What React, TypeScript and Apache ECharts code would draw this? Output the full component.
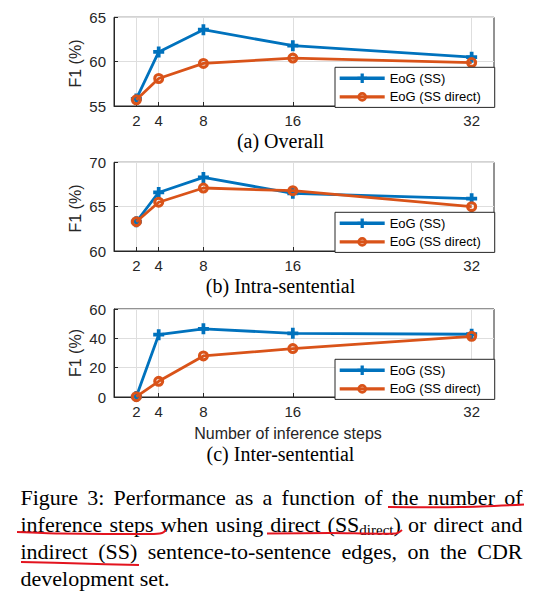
import React, { useEffect, useRef } from "react";
import * as echarts from "echarts";

// ---- data ----
const steps = [2, 4, 8, 16, 32];
const overallSS = [55.8, 61.1, 63.6, 61.8, 60.5];
const overallDirect = [55.7, 58.1, 59.8, 60.4, 59.9];
const intraSS = [63.3, 66.6, 68.3, 66.5, 65.9];
const intraDirect = [63.3, 65.5, 67.1, 66.8, 65.0];
const interSS = [0.3, 42.5, 46.5, 43.4, 42.8];
const interDirect = [0.2, 10.7, 28.0, 33.0, 41.4];
const yMins = [55, 60, 0];
const yMaxs = [65, 70, 60];
const yIntervals = [5, 5, 20];
const seriesNames = ["EoG (SS)", "EoG (SS direct)"];
const subCaptions = ["(a) Overall", "(b) Intra-sentential", "(c) Inter-sentential"];
const xAxisTitle = "Number of inference steps";
const yAxisTitle = "F1 (%)";
const captionLines = [
  "Figure 3: Performance as a function of the number of",
  "inference steps when using direct (SS_{direct}) or direct and",
  "indirect (SS) sentence-to-sentence edges, on the CDR",
  "development set.",
];

// ---- layout / style ----
const BLUE = "#0072BD";
const ORANGE = "#D95319";
const AX = "#262626";
const GRIDC = "#dedede";
const SANS = "Liberation Sans";
const SERIF = "Liberation Serif";
const PLUS = "path://M3.3,0H6.7V3.3H10V6.7H6.7V10H3.3V6.7H0V3.3H3.3Z";
const RING =
  "path://M0,5A5,5,0,1,1,10,5A5,5,0,1,1,0,5ZM2.8,5A2.2,2.2,0,1,0,7.2,5A2.2,2.2,0,1,0,2.8,5Z";
const gridTops = [17.3, 162.3, 309];
const gridHeights = [88.7, 88.7, 88];
const GL = 114;
const GW = 380;

function buildCaption(): any[] {
  const ctx = document.createElement("canvas").getContext("2d") as CanvasRenderingContext2D;
  const size = 22;
  const subSize = 15;
  const meas = (t: string, s: number) => {
    ctx.font = `${s}px "${SERIF}"`;
    return ctx.measureText(t).width;
  };
  const left = 20.5;
  const right = 522.5;
  const centers = [497.5, 524.5, 551.5, 578.5];
  const els: any[] = [];
  captionLines.forEach((line, li) => {
    const words = line.split(" ").map((w) => {
      const segs: { t: string; sub: boolean }[] = [];
      const re = /_\{(.*?)\}/g;
      let last = 0;
      let m: RegExpExecArray | null;
      while ((m = re.exec(w))) {
        if (m.index > last) segs.push({ t: w.slice(last, m.index), sub: false });
        segs.push({ t: m[1], sub: true });
        last = m.index + m[0].length;
      }
      if (last < w.length) segs.push({ t: w.slice(last), sub: false });
      const width = segs.reduce((a, s) => a + meas(s.t, s.sub ? subSize : size), 0);
      return { segs, width };
    });
    const total = words.reduce((a, w) => a + w.width, 0);
    const justify = li < captionLines.length - 1;
    const gap = justify ? (right - left - total) / (words.length - 1) : meas(" ", size);
    let x = left;
    words.forEach((w) => {
      let sx = x;
      w.segs.forEach((s) => {
        const fs = s.sub ? subSize : size;
        els.push({
          type: "text",
          x: sx,
          y: centers[li] + (s.sub ? 5 : 0),
          style: {
            text: s.t,
            font: `${fs}px "${SERIF}"`,
            fill: "#000",
            align: "left",
            verticalAlign: "middle",
          },
        });
        sx += meas(s.t, fs);
      });
      x += w.width + gap;
    });
  });
  return els;
}

export default function App() {
  const ref = useRef<HTMLDivElement>(null);
  useEffect(() => {
    if (!ref.current) return;
    const chart = echarts.init(ref.current, undefined, { renderer: "svg" });
    const allData = [
      [overallSS, overallDirect],
      [intraSS, intraDirect],
      [interSS, interDirect],
    ];
    const grids = gridTops.map((t, i) => ({
      left: GL,
      top: t,
      width: GW,
      height: gridHeights[i],
      show: true,
      borderColor: AX,
      borderWidth: 1,
      backgroundColor: "transparent",
    }));
    const xAxes = gridTops.map((_, i) => ({
      gridIndex: i,
      type: "value",
      min: 0,
      max: 34,
      axisLine: { show: true, lineStyle: { color: AX, width: 1 } },
      axisTick: { show: true, inside: true, length: 4, customValues: steps, lineStyle: { color: AX } },
      axisLabel: {
        customValues: steps,
        fontSize: 15,
        lineHeight: 14,
        color: AX,
        margin: 7,
        fontFamily: SANS,
      },
      splitLine: { show: true, lineStyle: { color: GRIDC, width: 1 } },
    }));
    const yAxes = gridTops.map((_, i) => ({
      gridIndex: i,
      type: "value",
      min: yMins[i],
      max: yMaxs[i],
      interval: yIntervals[i],
      axisLine: { show: true, lineStyle: { color: AX, width: 1 } },
      axisTick: { show: true, inside: true, length: 4, lineStyle: { color: AX } },
      axisLabel: { fontSize: 15, color: AX, margin: 8, fontFamily: SANS },
      splitLine: { show: true, lineStyle: { color: GRIDC, width: 1 } },
    }));
    const series: any[] = [];
    allData.forEach((pair, gi) => {
      pair.forEach((vals, si) => {
        const c = si === 0 ? BLUE : ORANGE;
        series.push({
          type: "line",
          name: seriesNames[si],
          xAxisIndex: gi,
          yAxisIndex: gi,
          data: steps.map((s, k) => [s, vals[k]]),
          symbol: si === 0 ? PLUS : RING,
          symbolSize: 11,
          showAllSymbol: true,
          lineStyle: { color: c, width: 2.8 },
          itemStyle: { color: c },
          emphasis: { disabled: true },
          z: 2 + si,
        });
      });
    });
    const legendTops = [67.3, 212.3, 359.3];
    const legends = legendTops.map((t) => ({
      orient: "vertical",
      left: 335,
      top: t,
      itemWidth: 45,
      itemHeight: 12,
      itemGap: 5.6,
      padding: [4.5, 14, 4, 3],
      borderColor: AX,
      borderWidth: 1,
      backgroundColor: "#fff",
      selectedMode: false,
      lineStyle: { width: 3.4 },
      textStyle: { fontSize: 13, color: "#000", fontFamily: SANS },
      data: seriesNames,
    }));
    const yLabelCenters = [63.5, 208.5, 353];
    const subCapCenters = [141, 285.5, 453.5];
    const graphics: any[] = [];
    yLabelCenters.forEach((cy) => {
      graphics.push({
        type: "text",
        x: 75,
        y: cy,
        rotation: Math.PI / 2,
        style: {
          text: yAxisTitle,
          font: `16px "${SANS}"`,
          fill: AX,
          align: "center",
          verticalAlign: "middle",
        },
      });
    });
    subCaptions.forEach((t, i) => {
      graphics.push({
        type: "text",
        x: 280.5,
        y: subCapCenters[i],
        style: {
          text: t,
          font: `20px "${SERIF}"`,
          lineHeight: 18,
          fill: "#000",
          align: "center",
          verticalAlign: "middle",
        },
      });
    });
    graphics.push({
      type: "text",
      x: 288,
      y: 433,
      style: {
        text: xAxisTitle,
        font: `16px "${SANS}"`,
        lineHeight: 15,
        fill: AX,
        align: "center",
        verticalAlign: "middle",
      },
    });
    buildCaption().forEach((e) => graphics.push(e));
    const red = { stroke: "#e3141f", lineWidth: 2, fill: "none" };
    const underlines = [
      [[388, 507], [460, 507], [524, 504.5]],
      [[17, 532], [60, 533.5], [150, 534], [162, 533], [166, 530]],
      [[267, 533.5], [330, 533], [396, 533.5], [402, 530]],
      [[21, 562], [80, 563.5], [139, 565]],
    ];
    underlines.forEach((pts) => {
      graphics.push({ type: "polyline", shape: { points: pts, smooth: 0.3 }, style: red, z: 10 });
    });

    chart.setOption({
      animation: false,
      textStyle: { fontFamily: SANS },
      grid: grids,
      xAxis: xAxes,
      yAxis: yAxes,
      legend: legends,
      series,
      graphic: graphics,
    });
    return () => chart.dispose();
  }, []);
  return (
    <div
      ref={ref}
      style={{ position: "absolute", left: 0, top: 0, width: 547, height: 599, background: "#fff" }}
    />
  );
}
